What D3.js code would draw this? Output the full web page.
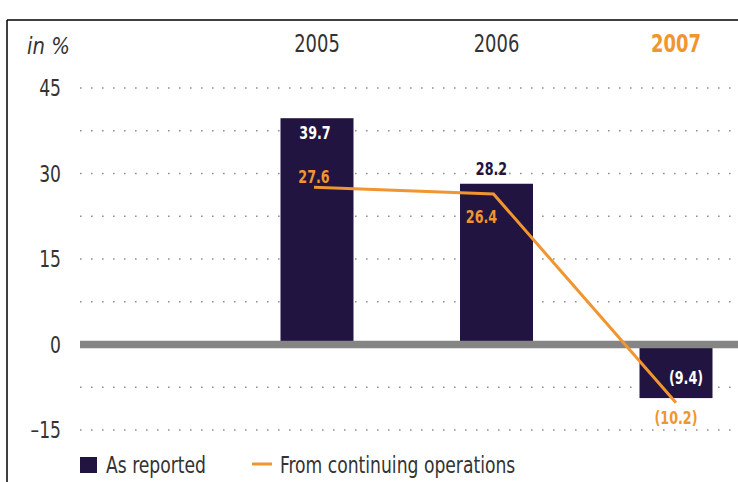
<!DOCTYPE html>
<html>
<head>
<meta charset="utf-8">
<script src="https://cdn.jsdelivr.net/npm/d3@7"></script>
<style>
  html, body { margin: 0; padding: 0; background: #fff; }
  svg { display: block; }
  text { font-family: "DejaVu Sans Condensed", "DejaVu Sans", sans-serif; font-stretch: condensed; }
</style>
</head>
<body>
<svg id="chart" width="738" height="482"></svg>
<script>
const years = ["2005", "2006", "2007"];
const asReported = [39.7, 28.2, -9.4];
const continuing = [27.6, 26.4, -10.2];
const reportedLabels = ["39.7", "28.2", "(9.4)"];
const continuingLabels = ["27.6", "26.4", "(10.2)"];
const yTicks = [45, 30, 15, 0, -15];
const gridValues = [45, 37.5, 30, 22.5, 15, 7.5, -7.5, -15];

const navy = "#221441";
const orange = "#f0952f";
const textGray = "#333";
const squeeze = 0.83; // the original font is narrower than anything installed

const svg = d3.select("#chart");

const x = d3.scalePoint().domain(years).range([317, 676]);
const y = d3.scaleLinear().domain([-15, 45]).range([430, 88]);
const barWidth = 73;

function at(px, py, sx = squeeze) {
  return `translate(${px},${py}) scale(${sx},1)`;
}

// frame
svg.append("line").attr("x1", 7).attr("x2", 738).attr("y1", 20).attr("y2", 20)
  .attr("stroke", "#000").attr("stroke-width", 1.5);
svg.append("line").attr("x1", 7).attr("x2", 7).attr("y1", 20).attr("y2", 482)
  .attr("stroke", "#000").attr("stroke-width", 1.5);

// dotted grid
svg.append("g").selectAll("line").data(gridValues).join("line")
  .attr("x1", 80).attr("x2", 738)
  .attr("y1", (d) => y(d)).attr("y2", (d) => y(d))
  .attr("stroke", "#909090")
  .attr("stroke-width", 1.6)
  .attr("stroke-dasharray", "1.6 9.4");

// y tick labels
svg.append("g").selectAll("text").data(yTicks).join("text")
  .attr("transform", (d) => at(61, y(d)))
  .attr("dy", "0.36em")
  .attr("text-anchor", "end")
  .attr("font-size", 23).attr("fill", textGray)
  .text((d) => d < 0 ? "\u2013" + Math.abs(d) : d);

svg.append("text").attr("transform", at(27, 54, 0.95))
  .attr("font-size", 23).attr("font-style", "italic").attr("fill", textGray)
  .text("in %");

// year labels
svg.append("g").selectAll("text").data(years).join("text")
  .attr("transform", (d) => at(x(d), 52))
  .attr("text-anchor", "middle")
  .attr("font-size", 24)
  .attr("font-weight", (d, i) => i === years.length - 1 ? "bold" : "normal")
  .attr("fill", (d, i) => i === years.length - 1 ? orange : textGray)
  .text((d) => d);

// bars
svg.append("g").selectAll("rect").data(asReported).join("rect")
  .attr("x", (d, i) => x(years[i]) - barWidth / 2)
  .attr("width", barWidth)
  .attr("y", (d) => d >= 0 ? y(d) : y(0))
  .attr("height", (d) => Math.abs(y(d) - y(0)))
  .attr("fill", navy);

// zero line
svg.append("line").attr("x1", 80).attr("x2", 738)
  .attr("y1", y(0)).attr("y2", y(0))
  .attr("stroke", "#858585").attr("stroke-width", 7.5);

// continuing operations line
const line = d3.line().x((d, i) => x(years[i]) - (i < 2 ? 3 : 0)).y((d) => y(d));
svg.append("path").datum(continuing)
  .attr("d", line)
  .attr("fill", "none")
  .attr("stroke", orange)
  .attr("stroke-width", 3);

// value labels
const repDx = [-2, -5, 10];
const repDy = [21, -9, -14];
const repFill = ["#fff", navy, "#fff"];
svg.append("g").selectAll("text").data(asReported).join("text")
  .attr("transform", (d, i) => at(x(years[i]) + repDx[i], y(d) + repDy[i]))
  .attr("text-anchor", "middle")
  .attr("font-size", 17).attr("font-weight", "bold")
  .attr("fill", (d, i) => repFill[i])
  .text((d, i) => reportedLabels[i]);

const conDx = [-3, -15, 0];
const conDy = [-4, 29, 21];
svg.append("g").selectAll("text").data(continuing).join("text")
  .attr("transform", (d, i) => at(x(years[i]) + conDx[i], y(d) + conDy[i]))
  .attr("text-anchor", "middle")
  .attr("font-size", 17).attr("font-weight", "bold")
  .attr("fill", orange)
  .text((d, i) => continuingLabels[i]);

// legend
svg.append("rect").attr("x", 80).attr("y", 457).attr("width", 17).attr("height", 16).attr("fill", navy);
svg.append("text").attr("transform", at(106, 473)).attr("font-size", 23).attr("fill", textGray).text("As reported");
svg.append("line").attr("x1", 252).attr("x2", 272).attr("y1", 464).attr("y2", 464)
  .attr("stroke", orange).attr("stroke-width", 3);
svg.append("text").attr("transform", at(280, 473)).attr("font-size", 23).attr("fill", textGray).text("From continuing operations");
</script>
</body>
</html>
